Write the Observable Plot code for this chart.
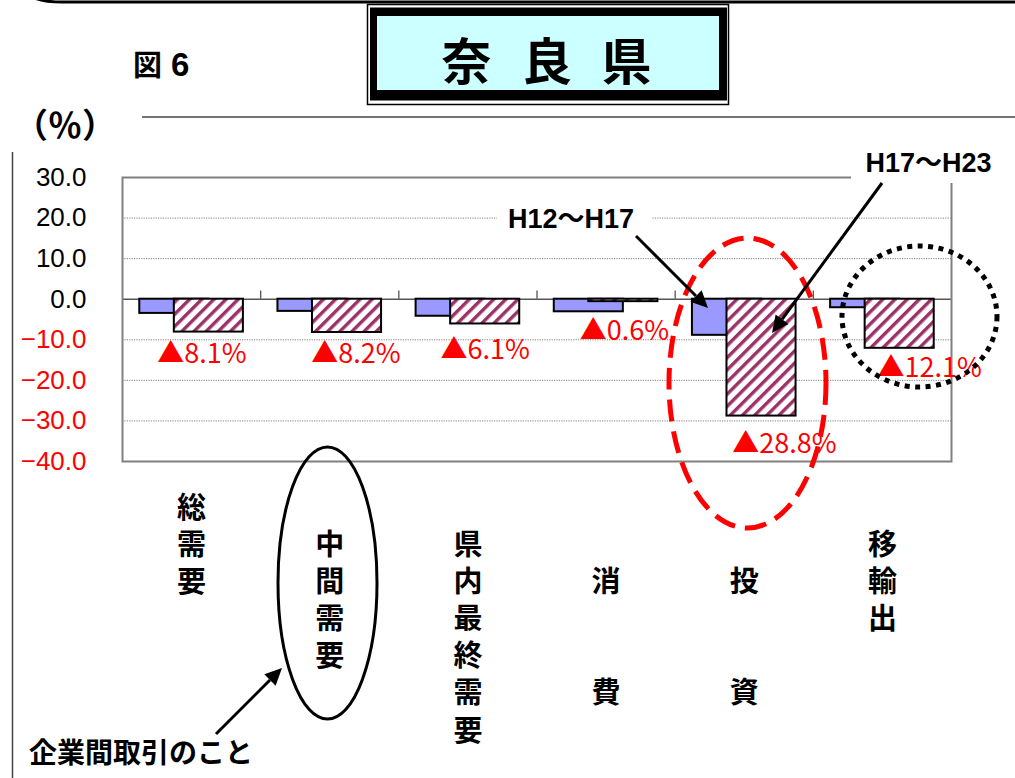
<!DOCTYPE html>
<html>
<head>
<meta charset="utf-8">
<script src="https://cdn.jsdelivr.net/npm/d3@7"></script>
<script src="https://cdn.jsdelivr.net/npm/@observablehq/plot@0.6"></script>
<style>
html, body { margin: 0; padding: 0; background: #fff; }
#chart { position: relative; width: 1015px; height: 778px; overflow: hidden; }
#defs { position: absolute; width: 0; height: 0; }
</style>
</head>
<body>
<svg id="defs" width="0" height="0">
  <defs>
    <pattern id="hatch" patternUnits="userSpaceOnUse" width="8.6" height="8.6" patternTransform="rotate(45)">
      <rect x="0" y="0" width="8.6" height="8.6" fill="#ffffff"></rect>
      <rect x="0" y="0" width="3.4" height="8.6" fill="#9b3168"></rect>
    </pattern>
  </defs>
</svg>
<div id="chart"></div>
<script>
// ---- data ----
const categories = ["総需要", "中間需要", "県内最終需要", "消費", "投資", "移輸出"];
const tickLabels = ["総\n需\n要", "\n中\n間\n需\n要", "\n県\n内\n最\n終\n需\n要", "\n\n消\n\n\n費", "\n\n投\n\n\n資", "\n移\n輸\n出"];
const seriesNames = ["H12～H17", "H17～H23"];
const valuesH12H17 = [-3.5, -3.0, -4.2, -3.1, -8.9, -2.1];
const valuesH17H23 = [-8.1, -8.2, -6.1, -0.6, -28.8, -12.1];
const changeLabels = ["▲8.1%", "▲8.2%", "▲6.1%", "▲0.6%", "▲28.8%", "▲12.1%"];
const yTicks = [30, 20, 10, 0, -10, -20, -30, -40];

// ---- layout ----
const barHalf = 0.25;             // half bar width in category units
const seriesShift = [-0.125, 0.125];
const labelNudge = [[-7, 22], [9, 22], [0, 26], [1, 30], [23, 28], [30, 20]];
const cjk = "'Noto Sans CJK JP', 'Noto Sans', sans-serif";
const latin = "'Liberation Sans', Arial, 'Noto Sans CJK JP', sans-serif";

const rows = categories.flatMap((c, i) => [
  {i, cat: c, s: 0, v: valuesH12H17[i]},
  {i, cat: c, s: 1, v: valuesH17H23[i]}
]);
const rowsA = rows.filter(d => d.s === 0);
const rowsB = rows.filter(d => d.s === 1);

const fmt = d3.format(".1f");

const marks = [
  Plot.gridY([20, 10, -10, -20, -30], {stroke: "#808080", strokeOpacity: 1, strokeWidth: 1, strokeDasharray: "1.2,1.2"}),
  Plot.ruleY([0], {stroke: "#555", strokeWidth: 1.5}),
  Plot.ruleX([0.5, 1.5, 2.5, 3.5, 4.5], {y1: 0, y2: 2, stroke: "#555", strokeWidth: 1.3}),
  Plot.rect(rowsA, {
    x1: d => d.i + seriesShift[0] - barHalf, x2: d => d.i + seriesShift[0] + barHalf,
    y1: 0, y2: "v", fill: "#9999ff", stroke: "#000", strokeWidth: 2
  }),
  Plot.rect(rowsB, {
    x1: d => d.i + seriesShift[1] - barHalf, x2: d => d.i + seriesShift[1] + barHalf,
    y1: 0, y2: "v", fill: "url(#hatch)", stroke: "#000", strokeWidth: 2
  }),
  Plot.frame({stroke: "#808080", strokeWidth: 2}),
  Plot.text(yTicks, {
    frameAnchor: "left", y: d => d, text: d => fmt(d), textAnchor: "end", dx: -36,
    fill: d => d < 0 ? "#ff0000" : "#000000", fontSize: 26, fontFamily: latin
  }),
  Plot.text(tickLabels, {
    x: (d, i) => i, frameAnchor: "bottom", lineAnchor: "top", dy: 30, text: d => d,
    fontSize: 29, fontWeight: "bold", lineHeight: 1.28, fontFamily: cjk, fill: "#000"
  }),
  ...changeLabels.map((t, i) => Plot.text([rowsB[i]], {
    x: d => d.i + seriesShift[1], y: "v", text: () => t,
    dx: labelNudge[i][0], dy: labelNudge[i][1],
    fill: "#ff0000", fontSize: 27, fontFamily: cjk
  }))
];

const chart = Plot.plot({
  width: 1015, height: 778,
  marginLeft: 122, marginRight: 64, marginTop: 177, marginBottom: 317,
  x: {type: "linear", domain: [-0.5, 5.5], axis: null},
  y: {type: "linear", domain: [-40, 30], axis: null},
  style: {background: "#ffffff", overflow: "visible", fontFamily: latin},
  marks
});
document.getElementById("chart").appendChild(chart);

// ---- decorations ----
const svg = d3.select(chart);
const g = svg.append("g").attr("text-anchor", "start");

// top page border
g.append("path").attr("d", "M26,-8 Q34,2 62,2 L1015,2").attr("fill", "none").attr("stroke", "#000").attr("stroke-width", 3);
// header rule and left rule
g.append("line").attr("x1", 142).attr("x2", 1015).attr("y1", 117).attr("y2", 117).attr("stroke", "#444").attr("stroke-width", 1.5);
g.append("line").attr("x1", 12.5).attr("x2", 12.5).attr("y1", 152).attr("y2", 778).attr("stroke", "#444").attr("stroke-width", 1.5);

// title box
g.append("rect").attr("x", 367.5).attr("y", 4.5).attr("width", 361).attr("height", 100).attr("fill", "#fff").attr("stroke", "#000").attr("stroke-width", 1.5);
g.append("rect").attr("x", 370).attr("y", 7.5).attr("width", 357).attr("height", 93).attr("fill", "#000");
g.append("rect").attr("x", 377).attr("y", 16).attr("width", 342).attr("height", 74).attr("fill", "#ccffff");
[["奈", 466.5], ["良", 547], ["県", 626.5]].forEach(([c, x]) => {
  g.append("text").attr("x", x).attr("y", 58).attr("text-anchor", "middle").attr("dominant-baseline", "central")
    .attr("font-family", cjk).attr("font-weight", "bold").attr("font-size", 50).attr("fill", "#000").text(c);
});

g.append("text").attr("x", 133).attr("y", 76).attr("font-family", cjk).attr("font-weight", "bold").attr("font-size", 29).attr("fill", "#000").text("図");
g.append("text").attr("x", 171).attr("y", 76).attr("font-family", latin).attr("font-weight", "bold").attr("font-size", 33).attr("fill", "#000").text("6");
g.append("text").attr("x", 14).attr("y", 138).attr("font-family", cjk).attr("font-weight", "bold").attr("font-size", 34).attr("fill", "#000").text("（％）");

// white backgrounds behind callout texts
g.append("rect").attr("x", 497).attr("y", 199).attr("width", 155).attr("height", 36).attr("fill", "#fff");
g.append("rect").attr("x", 851).attr("y", 140).attr("width", 164).attr("height", 43).attr("fill", "#fff");

// ellipses
g.append("ellipse").attr("cx", 747.5).attr("cy", 383).attr("rx", 78.5).attr("ry", 145)
  .attr("fill", "none").attr("stroke", "#ff0000").attr("stroke-width", 5).attr("stroke-dasharray", "22,10");
g.append("ellipse").attr("cx", 919.5).attr("cy", 316.5).attr("rx", 77.5).attr("ry", 70.5)
  .attr("fill", "none").attr("stroke", "#000").attr("stroke-width", 5).attr("stroke-dasharray", "5,5.5");
g.append("ellipse").attr("cx", 327.5).attr("cy", 583).attr("rx", 49.5).attr("ry", 136)
  .attr("fill", "none").attr("stroke", "#000").attr("stroke-width", 3);

// arrows
function arrow(x1, y1, x2, y2) {
  const a = Math.atan2(y2 - y1, x2 - x1), L = 17, W = 8;
  const bx = x2 - L * Math.cos(a), by = y2 - L * Math.sin(a);
  g.append("line").attr("x1", x1).attr("y1", y1).attr("x2", bx).attr("y2", by).attr("stroke", "#000").attr("stroke-width", 3);
  const px = -Math.sin(a) * W, py = Math.cos(a) * W;
  g.append("path").attr("d", `M${x2},${y2}L${bx + px},${by + py}L${bx - px},${by - py}Z`).attr("fill", "#000");
}
arrow(636, 236, 708, 308);
arrow(882, 183, 772, 333);
arrow(216, 734, 282, 668);

// callout texts
g.append("text").attr("x", 571).attr("y", 228).attr("text-anchor", "middle").attr("font-family", latin).attr("font-weight", "bold").attr("font-size", 27).attr("fill", "#000").text(seriesNames[0]);
g.append("text").attr("x", 928.5).attr("y", 172).attr("text-anchor", "middle").attr("font-family", latin).attr("font-weight", "bold").attr("font-size", 27).attr("fill", "#000").text(seriesNames[1]);
g.append("text").attr("x", 29).attr("y", 763).attr("font-family", cjk).attr("font-weight", "bold").attr("font-size", 28).attr("fill", "#000").text("企業間取引のこと");
</script>
</body>
</html>
